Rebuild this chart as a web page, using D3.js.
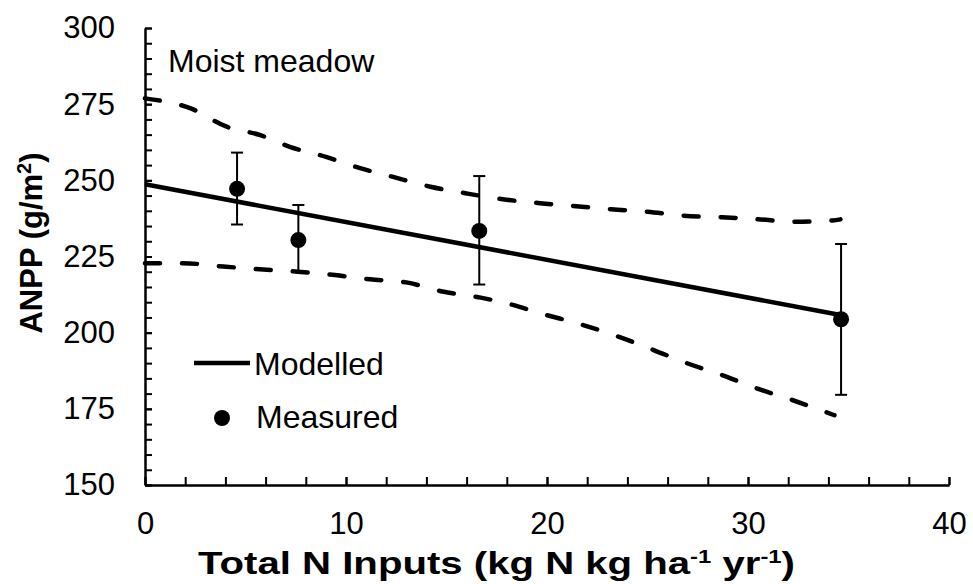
<!DOCTYPE html>
<html>
<head>
<meta charset="utf-8">
<script src="https://cdn.jsdelivr.net/npm/d3@7"></script>
<style>
  html, body { margin: 0; padding: 0; background: #fff; }
  svg { display: block; }
  text { font-family: "Liberation Sans", Arial, sans-serif; fill: #000; }
</style>
</head>
<body>
<svg id="chart" width="973" height="584"></svg>
<script>
// ---- data ----
const measuredX = [4.58, 7.63, 16.63, 34.63];
const measuredY = [247.2, 230.4, 233.4, 204.4];
const errTop    = [259.1, 241.9, 251.4, 229.1];
const errBottom = [235.5, 220.0, 215.8, 179.6];

const modelX = [0, 34.6];
const modelY = [248.7, 205.8];

const upperX = [0, 2.24, 4.06, 5.7, 7.2, 9.0, 10.7, 12.3, 14.2, 16.0, 17.8, 19.65, 21.3, 23.2, 25.0, 26.8, 28.7, 30.5, 32.3, 34.2, 34.6];
const upperY = [276.9, 273.7, 267.6, 264.9, 261.0, 257.7, 254.0, 251.2, 247.9, 245.7, 243.8, 242.5, 241.6, 240.5, 239.7, 238.4, 237.9, 237.2, 236.4, 236.8, 237.2];

const lowerX = [0, 1.9, 3.9, 5.7, 7.6, 9.45, 11.2, 13.0, 14.8, 16.7, 18.3, 19.65, 21.8, 23.55, 25.3, 26.95, 28.7, 30.4, 32.2, 33.8, 34.3];
const lowerY = [222.8, 222.8, 221.7, 220.8, 220.0, 218.9, 217.5, 216.5, 213.5, 211.5, 209.1, 206.4, 202.5, 198.7, 194.3, 190.0, 186.1, 181.8, 177.9, 174.1, 172.9];

const xMajorTicks = [0, 10, 20, 30, 40];
const xMinorTicks = [0, 2, 4, 6, 8, 10, 12, 14, 16, 18, 20, 22, 24, 26, 28, 30, 32, 34, 36, 38, 40];
const yMajorTicks = [150, 175, 200, 225, 250, 275, 300];
const yMinorTicks = d3.range(150, 301, 5);

const annotation = "Moist meadow";
const legendLabels = ["Modelled", "Measured"];

// ---- layout ----
const svg = d3.select("#chart");
const x = d3.scaleLinear().domain([0, 40]).range([145, 949]);
const y = d3.scaleLinear().domain([150, 300]).range([485, 28]);

const yMinor = d3.axisLeft(y).tickValues(yMinorTicks).tickFormat("").tickSizeInner(-7).tickSizeOuter(0);
const yMajor = d3.axisLeft(y).tickValues(yMajorTicks).tickSizeInner(-7).tickSizeOuter(0).tickPadding(30);
const xMinor = d3.axisBottom(x).tickValues(xMinorTicks).tickFormat("").tickSizeInner(-8).tickSizeOuter(0);
const xMajor = d3.axisBottom(x).tickValues(xMajorTicks).tickSizeInner(-8).tickSizeOuter(0).tickPadding(27);

function styleAxis(g) {
  g.selectAll("path.domain").attr("stroke", "#000").attr("stroke-width", 2);
  g.selectAll(".tick line").attr("stroke", "#000").attr("stroke-width", 2);
  g.selectAll(".tick text").style("font-family", "'Liberation Sans', Arial, sans-serif")
    .style("font-size", "31px").attr("fill", "#000");
}

svg.append("g").attr("transform", `translate(${x(0)},0)`).call(yMinor).call(styleAxis);
svg.append("g").attr("transform", `translate(${x(0)},0)`).call(yMajor).call(styleAxis);
svg.append("g").attr("transform", `translate(0,${y(150)})`).call(xMinor).call(styleAxis);
svg.append("g").attr("transform", `translate(0,${y(150)})`).call(xMajor).call(styleAxis);

// dashed confidence lines
const bandLine = d3.line().x(d => x(d[0])).y(d => y(d[1])).curve(d3.curveMonotoneX);
[[upperX, upperY], [lowerX, lowerY]].forEach(([xs, ys]) => {
  svg.append("path")
    .datum(xs.map((v, i) => [v, ys[i]]))
    .attr("d", bandLine)
    .attr("fill", "none")
    .attr("stroke", "#000")
    .attr("stroke-width", 4.5)
    .attr("stroke-linecap", "round")
    .attr("stroke-dasharray", "15,22");
});

// modelled line
svg.append("path")
  .datum(modelX.map((v, i) => [v, modelY[i]]))
  .attr("d", d3.line().x(d => x(d[0])).y(d => y(d[1])))
  .attr("fill", "none")
  .attr("stroke", "#000")
  .attr("stroke-width", 4.5);

// error bars
const eb = svg.append("g").attr("stroke", "#000").attr("stroke-width", 2);
measuredX.forEach((mx, i) => {
  eb.append("line").attr("x1", x(mx)).attr("x2", x(mx)).attr("y1", y(errTop[i])).attr("y2", y(errBottom[i]));
  eb.append("line").attr("x1", x(mx) - 6).attr("x2", x(mx) + 6).attr("y1", y(errTop[i])).attr("y2", y(errTop[i]));
  eb.append("line").attr("x1", x(mx) - 6).attr("x2", x(mx) + 6).attr("y1", y(errBottom[i])).attr("y2", y(errBottom[i]));
});

// measured points
svg.append("g").selectAll("circle")
  .data(measuredX.map((v, i) => [v, measuredY[i]]))
  .join("circle")
  .attr("cx", d => x(d[0]))
  .attr("cy", d => y(d[1]))
  .attr("r", 8)
  .attr("fill", "#000");

// annotation
svg.append("text").attr("x", 168).attr("y", 72).style("font-size", "32px").text(annotation);

// legend
svg.append("line").attr("x1", 194).attr("x2", 250).attr("y1", 363).attr("y2", 363)
  .attr("stroke", "#000").attr("stroke-width", 4.5);
svg.append("text").attr("x", 254).attr("y", 375).style("font-size", "32px").text(legendLabels[0]);
svg.append("circle").attr("cx", 222).attr("cy", 418).attr("r", 8).attr("fill", "#000");
svg.append("text").attr("x", 256).attr("y", 428).style("font-size", "32px").text(legendLabels[1]);

// y axis title
const yt = svg.append("text")
  .attr("transform", "translate(42,243) rotate(-90)")
  .attr("text-anchor", "middle")
  .style("font-size", "31px").style("font-weight", "bold");
yt.append("tspan").text("ANPP (g/m");
yt.append("tspan").attr("dy", -11).style("font-size", "20px").text("2");
yt.append("tspan").attr("dy", 11).text(")");

// x axis title
const xt = svg.append("text")
  .attr("x", 198).attr("y", 574)
  .attr("textLength", 597).attr("lengthAdjust", "spacingAndGlyphs")
  .style("font-family", "'Liberation Sans Narrow', 'Arial Narrow', 'Liberation Sans', sans-serif")
  .style("font-size", "32px").style("font-weight", "bold");
xt.append("tspan").text("Total N Inputs (kg N kg ha");
xt.append("tspan").attr("dy", -11).style("font-size", "19px").text("-1");
xt.append("tspan").attr("dy", 11).text(" yr");
xt.append("tspan").attr("dy", -11).style("font-size", "19px").text("-1");
xt.append("tspan").attr("dy", 11).text(")");
</script>
</body>
</html>
